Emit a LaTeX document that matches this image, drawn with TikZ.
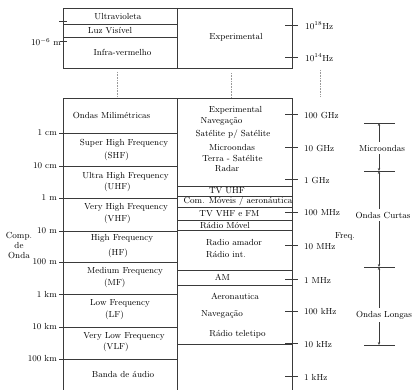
\documentclass[tikz,border=0pt]{standalone}
\usepackage{tikz}
\usetikzlibrary{arrows.meta, positioning}
\usepackage{xcolor}
\definecolor{Linha}{HTML}{3A3A3A}
\definecolor{Guia} {HTML}{9A9A9A}
\tikzset{
  txt/.style={
    font=\fontsize{8.8}{10}\selectfont, text=black,
    inner sep=0pt, align=center,
  },
  brk/.style={
    txt, outer sep=3pt,
  },
  fio/.style={
    draw=Linha, line width=0.55pt,
  },
  guia/.style={
    draw=Guia, densely dotted, line width=0.6pt,
  },
  seta/.style={
    -{Stealth[length=3pt,width=2.4pt]},
    line width=0.5pt, draw=Linha,
  },
}

\begin{document}
\begin{tikzpicture}[x=1pt,y=-1pt]
    \useasboundingbox (0,0) rectangle (413,390);
    % caixa de cima
    \draw[fio] (63,8) rectangle (292,68);
    \draw[fio] (177,8) -- (177,68);
    \draw[fio] (63,24) -- (177,24);
    \draw[fio] (63,37) -- (177,37);
    \draw[fio] (59,21) -- (67,21);
    \draw[fio] (60,41) -- (67,41);
    \draw[fio] (285,25) -- (298,25);
    \draw[fio] (285,57) -- (298,57);
    \node[txt] (uv)  at (118,16.5) {Ultravioleta};
    \node[txt] (luz) at (110,30.5) {Luz Visível};
    \node[txt] (iv)  at (122.5,52) {Infra-vermelho};
    \node[txt] (exp) at (236,37) {Experimental};
    \node[txt, anchor=east] (mic) at (61,42) {$10^{-6}$ m};
    \node[txt, anchor=west] (h18) at (305,25.5) {$10^{18}$Hz};
    \node[txt, anchor=west] (h14) at (305,57.5) {$10^{14}$Hz};
    % guias pontilhadas
    \draw[guia] (117,72) -- (117,98.5);
    \draw[guia] (231,73) -- (231,98.5);
    \draw[guia] (320,70) -- (320,97);
    % caixa de baixo
    \draw[fio] (63,392) -- (63,98.5) -- (292,98.5) -- (292,392);
    \draw[fio] (177,98.5) -- (177,392);
    \foreach \y/\lab [count=\i] in {133/1 cm, 166/10 cm, 198/1 m, 231/10 m,
        262/100 m, 294/1 km, 327/10 km, 359/100 km}{
      \draw[fio] (59,\y) -- (177,\y);
      \node[txt, anchor=east] (w\i) at (57,\y) {\lab};
    }
    \foreach \y/\lab [count=\i] in {114/100 GHz, 147/10 GHz, 179/1 GHz,
        212/100 MHz, 245.5/10 MHz, 279.5/1 MHz, 311/100 kHz, 343.5/10 kHz, 376/1 kHz}{
      \draw[fio] (285,\y) -- (298,\y);
      \node[txt, anchor=west] (f\i) at (304,\y+1) {\lab};
    }
    \foreach \y in {186.5, 196, 207, 220, 230.5, 270, 285, 344}
      \draw[fio] (177,\y) -- (292,\y);
    % faixas (comprimento de onda)
    \node[txt] (mm)   at (111.5,115) {Ondas Milimétricas};
    \node[txt] (shf)  at (124,143)   {Super High Frequency};
    \node[txt, anchor=west] (shfb) at (104,156)   {(SHF)};
    \node[txt] (uhf)  at (125.5,176) {Ultra High Frequency};
    \node[txt, anchor=west] (uhfb) at (104,187.5) {(UHF)};
    \node[txt] (vhf)  at (126,207)   {Very High Frequency};
    \node[txt, anchor=west] (vhfb) at (104,219.5) {(VHF)};
    \node[txt] (hf)   at (122,238)   {High Frequency};
    \node[txt, anchor=west] (hfb)  at (108,253)   {(HF)};
    \node[txt] (mf)   at (125,271)   {Medium Frequency};
    \node[txt, anchor=west] (mfb)  at (104,283)   {(MF)};
    \node[txt] (lf)   at (120,303)   {Low Frequency};
    \node[txt, anchor=west] (lfb)  at (105,315)   {(LF)};
    \node[txt] (vlf)  at (124,336)   {Very Low Frequency};
    \node[txt, anchor=west] (vlfb) at (103,347)   {(VLF)};
    \node[txt] (aud)  at (123,374)   {Banda de áudio};
    \node[txt] (comp) at (19,245)    {Comp.\\de\\Onda};
    % usos
    \node[txt] (u1)  at (235.5,110)  {Experimental};
    \node[txt] (u2)  at (221.5,121)  {Navegação};
    \node[txt] (u3)  at (233,134.5)  {Satélite p/ Satélite};
    \node[txt] (u4)  at (232,147)    {Microondas};
    \node[txt] (u5)  at (232.5,158)  {Terra - Satélite};
    \node[txt] (u6)  at (227,169)    {Radar};
    \node[txt] (u7)  at (227,191)    {TV UHF};
    \node[txt] (u8)  at (238,201.5)  {Com. Móveis / aeronáutica};
    \node[txt] (u9)  at (229.5,214)  {TV VHF e FM};
    \node[txt] (u10) at (225,225.5)  {Rádio Móvel};
    \node[txt] (u11) at (234,243)    {Radio amador};
    \node[txt] (u12) at (226,255)    {Rádio int.};
    \node[txt] (u13) at (222.5,277.5){AM};
    \node[txt] (u14) at (235,296.5)  {Aeronautica};
    \node[txt] (u15) at (222,314.5)  {Navegação};
    \node[txt] (u16) at (237.5,334)  {Rádio teletipo};
    % faixas de frequencia
    \node[txt] (freq) at (345,236) {Freq.};
    \foreach \y in {123, 171, 267, 345}
      \draw[fio] (364,\y) -- (395,\y);
    \coordinate (m1) at (379,123);
    \coordinate (m2) at (379,171);
    \coordinate (m3) at (379,267);
    \coordinate (m4) at (379,345);
    \node[brk] (micro)  at (382,148) {Microondas};
    \node[brk] (curtas) at (383,215) {Ondas Curtas};
    \node[brk] (longas) at (384,315) {Ondas Longas};
    \draw[seta] (micro.north -| m1) -- (m1);
    \draw[seta] (micro.south -| m2) -- (m2);
    \draw[seta] (curtas.north -| m2) -- (m2);
    \draw[seta] (curtas.south -| m3) -- (m3);
    \draw[seta] (longas.north -| m3) -- (m3);
    \draw[seta] (longas.south -| m4) -- (m4);
  \end{tikzpicture}
\end{document}
